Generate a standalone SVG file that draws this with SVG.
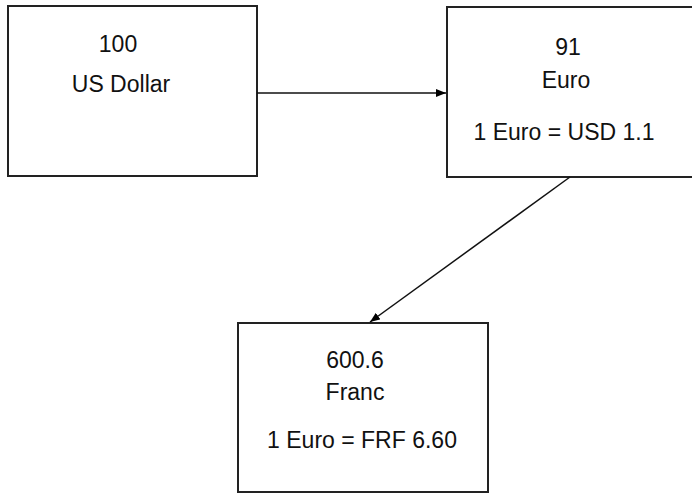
<svg xmlns="http://www.w3.org/2000/svg" width="692" height="493" viewBox="0 0 692 493">
<style>
.box{fill:#fff;stroke:#222;stroke-width:2}
.t{font-family:"Liberation Sans",Arial,sans-serif;font-size:23px;fill:#111;text-anchor:middle}
.c{stroke:#111;stroke-width:1.5;fill:none}
</style>
<defs>
<marker id="ah" markerWidth="10" markerHeight="8" refX="10" refY="4" orient="auto" markerUnits="userSpaceOnUse">
<path d="M0,0 L10,4 L0,8 z" fill="#000"/>
</marker>
</defs>
<rect width="692" height="493" fill="#fff"/>
<g id="usd">
<rect class="box" x="8" y="6" width="249" height="170"/>
<text class="t" x="118" y="52">100</text>
<text class="t" x="121" y="92">US Dollar</text>
</g>
<g id="euro">
<rect class="box" x="447" y="7" width="260" height="170"/>
<text class="t" x="568" y="55">91</text>
<text class="t" x="566" y="88">Euro</text>
<text class="t" x="564" y="140">1 Euro = USD 1.1</text>
</g>
<g id="franc">
<rect class="box" x="238" y="323" width="250" height="169"/>
<text class="t" x="355" y="368">600.6</text>
<text class="t" x="355" y="400">Franc</text>
<text class="t" x="362" y="448">1 Euro = FRF 6.60</text>
</g>
<g id="connectors">
<line class="c" x1="257" y1="93" x2="446" y2="93" marker-end="url(#ah)"/>
<line class="c" x1="570" y1="177" x2="370" y2="322" marker-end="url(#ah)"/>
</g>
</svg>
